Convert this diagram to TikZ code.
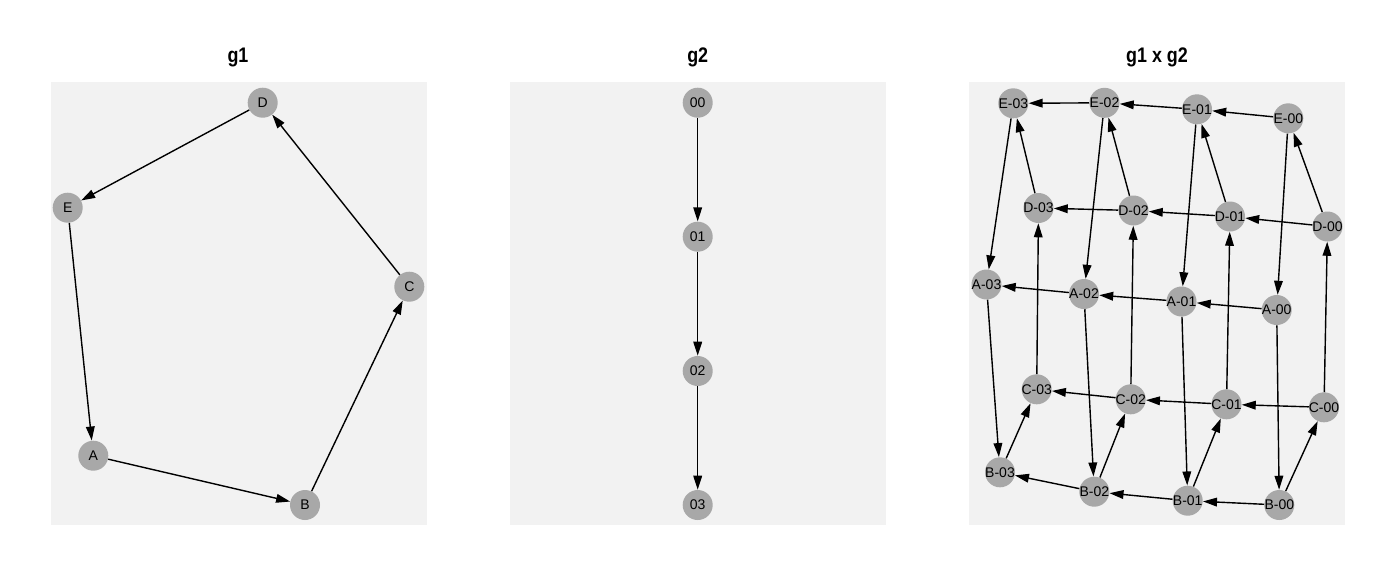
\documentclass[tikz,border=0pt]{standalone}
\usepackage{fontspec}
\setmainfont{Liberation Sans}
\usetikzlibrary{arrows.meta}
\definecolor{nodegray}{RGB}{168,168,168}
\definecolor{panelbg}{RGB}{242,242,242}
\tikzset{
  vtx/.style={circle,fill=nodegray,draw=none,minimum size=22.5pt,inner sep=0pt,font=\fontsize{10.5}{12}\selectfont},
  edge/.style={line width=1.05pt,-{Triangle[length=10.5pt,width=6.5pt]}},
  panel/.style={fill=panelbg,draw=none},
  ttl/.style={font=\fontsize{15.8}{18}\selectfont\bfseries}
}
\newcommand{\vt}[3]{\node[vtx] (#1) at (#2) {\makebox[0pt]{#3}};}
\newcommand{\ttltext}[1]{\scalebox{0.85}[1]{#1}}
\begin{document}
\begin{tikzpicture}[x=0.75pt,y=-0.75pt]
\useasboundingbox[fill=white] (0,0) rectangle (1392,576);
% panels
\fill[panel] (51,82) rectangle (427,525);
\fill[panel] (510,82) rectangle (886,525);
\fill[panel] (969,82) rectangle (1345,525);
% titles
\node[ttl] (t1) at (238,57) {\ttltext{g1}};
\node[ttl] (t2) at (697.7,57) {\ttltext{g2}};
\node[ttl] (t3) at (1157,57) {\ttltext{g1 x g2}};
% g1
\vt{D}{262.7,102.7}{D}
\vt{E}{67.7,207.7}{E}
\vt{C}{409.3,286.7}{C}
\vt{A}{93.3,455.7}{A}
\vt{B}{305,505}{B}
\draw[edge] (D) -- (E);
\draw[edge] (E) -- (A);
\draw[edge] (A) -- (B);
\draw[edge] (B) -- (C);
\draw[edge] (C) -- (D);
% g2
\vt{n00}{697.7,102.7}{00}
\vt{n01}{697.7,236.7}{01}
\vt{n02}{697.7,371}{02}
\vt{n03}{697.7,505}{03}
\draw[edge] (n00) -- (n01);
\draw[edge] (n01) -- (n02);
\draw[edge] (n02) -- (n03);
% product
\vt{E03}{1013.3,103.3}{E-03}
\vt{E02}{1104.5,102.8}{E-02}
\vt{E01}{1197,109.3}{E-01}
\vt{E00}{1288.3,118.3}{E-00}
\vt{D03}{1038.5,208}{D-03}
\vt{D02}{1133.5,210.5}{D-02}
\vt{D01}{1230,216.5}{D-01}
\vt{D00}{1327.5,226.5}{D-00}
\vt{A03}{986.5,284.5}{A-03}
\vt{A02}{1084,294}{A-02}
\vt{A01}{1181.5,301.5}{A-01}
\vt{A00}{1276.7,310}{A-00}
\vt{C03}{1036.7,389.3}{C-03}
\vt{C02}{1130.7,399.3}{C-02}
\vt{C01}{1226.5,404.3}{C-01}
\vt{C00}{1324,407.3}{C-00}
\vt{B03}{1000,472.3}{B-03}
\vt{B02}{1094.3,491.7}{B-02}
\vt{B01}{1187.7,500.7}{B-01}
\vt{B00}{1279.3,505}{B-00}
\foreach \g in {A,B,C,D,E}{
  \draw[edge] (\g00) -- (\g01);
  \draw[edge] (\g01) -- (\g02);
  \draw[edge] (\g02) -- (\g03);
}
\foreach \j in {00,01,02,03}{
  \draw[edge] (D\j) -- (E\j);
  \draw[edge] (E\j) -- (A\j);
  \draw[edge] (A\j) -- (B\j);
  \draw[edge] (B\j) -- (C\j);
  \draw[edge] (C\j) -- (D\j);
}
\end{tikzpicture}
\end{document}
